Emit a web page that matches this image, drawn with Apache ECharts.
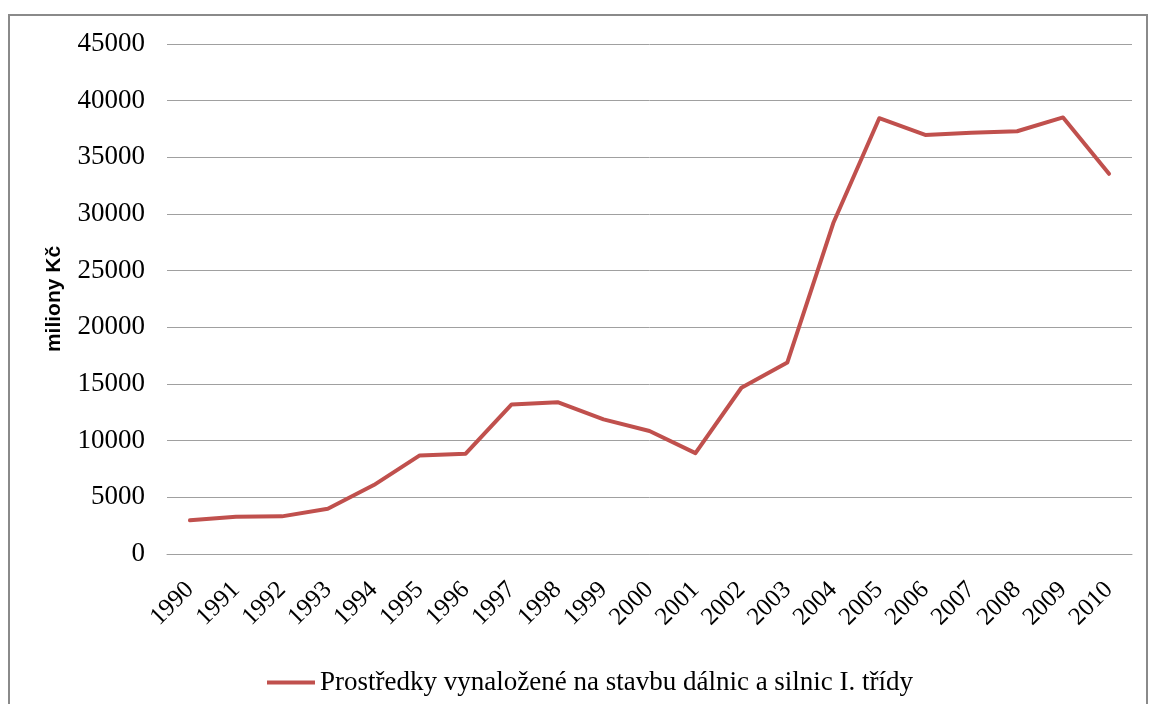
<!DOCTYPE html>
<html>
<head>
<meta charset="utf-8">
<script src="https://cdn.jsdelivr.net/npm/echarts@6/dist/echarts.min.js"></script>
<style>
  html, body { margin: 0; padding: 0; background: #fff; }
  #chart { width: 1149px; height: 704px; }
</style>
</head>
<body>
<div id="chart"></div>
<script>
var years = ['1990','1991','1992','1993','1994','1995','1996','1997','1998','1999','2000',
             '2001','2002','2003','2004','2005','2006','2007','2008','2009','2010'];
var spending = [2970, 3280, 3320, 4000, 6080, 8700, 8850, 13200, 13400, 11880, 10850,
                8900, 14670, 16900, 29200, 38450, 36980, 37170, 37300, 38520, 33550];
var seriesName = 'Prostředky vynaložené na stavbu dálnic a silnic I. třídy';
var yTicks = { min: 0, max: 45000, step: 5000 };

var serif = '"Liberation Serif", "Times New Roman", serif';
var chart = echarts.init(document.getElementById('chart'));

chart.setOption({
    backgroundColor: '#fff',
    animation: false,
    graphic: [{
        type: 'rect',
        shape: { x: 9, y: 15, width: 1138, height: 700 },
        style: { fill: 'none', stroke: '#8a8a8a', lineWidth: 2 },
        silent: true
    }],
    grid: { left: 167, right: 17, top: 44, bottom: 150 },
    legend: {
        left: 262,
        top: 664,
        icon: 'rect',
        itemWidth: 48,
        itemHeight: 4,
        itemGap: 10,
        textStyle: { fontFamily: serif, fontSize: 27, color: '#000', padding: [0, 0, 0, 0] },
        data: [seriesName]
    },
    xAxis: {
        type: 'category',
        data: years,
        boundaryGap: true,
        axisLine: { show: true, lineStyle: { color: '#a0a0a0', width: 1 } },
        axisTick: { show: false },
        axisLabel: {
            interval: 0,
            rotate: 45,
            margin: 32,
            fontFamily: serif,
            fontSize: 25,
            color: '#000'
        }
    },
    yAxis: {
        type: 'value',
        min: yTicks.min,
        max: yTicks.max,
        interval: yTicks.step,
        name: 'miliony Kč',
        nameLocation: 'middle',
        nameRotate: 90,
        nameGap: 102,
        nameTextStyle: {
            fontFamily: '"Liberation Sans", Arial, sans-serif',
            fontWeight: 'bold',
            fontSize: 21,
            color: '#000'
        },
        axisLine: { show: false },
        axisTick: { show: false },
        axisLabel: {
            margin: 22,
            fontFamily: serif,
            fontSize: 27,
            color: '#000',
            formatter: function (v) { return String(v); }
        },
        splitLine: { lineStyle: { color: '#a0a0a0', width: 1 } }
    },
    series: [{
        name: seriesName,
        type: 'line',
        data: spending,
        symbol: 'none',
        lineStyle: { color: '#C0504D', width: 4, join: 'round', cap: 'round' },
        itemStyle: { color: '#C0504D' }
    }]
});
</script>
</body>
</html>
